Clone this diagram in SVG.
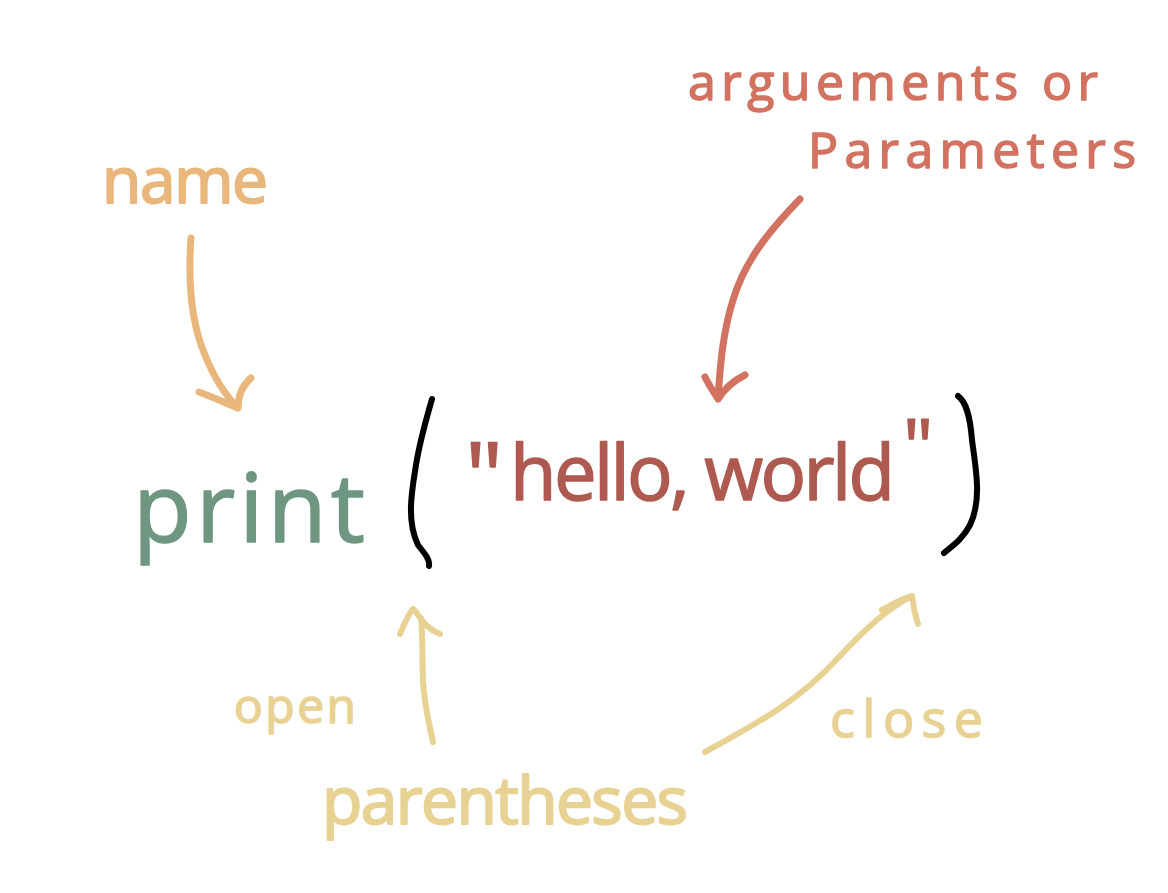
<svg xmlns="http://www.w3.org/2000/svg" width="1168" height="893" viewBox="0 0 1168 893">
<style>
.t{font-family:"Open Sans","Liberation Sans",sans-serif;stroke-linejoin:round}
.name{fill:#E9B77C;stroke:#E9B77C}
.arg{fill:#D27260;stroke:#D27260}
.hw{fill:#AE5A50;stroke:#AE5A50}
.pr{fill:#6E9680;stroke:#6E9680}
.par{fill:#E8D293;stroke:#E8D293}
.ln{fill:none;stroke-linecap:round;stroke-linejoin:round}
</style>
<rect width="1168" height="893" fill="#ffffff"/>
<g id="name-label"><text class="t name" x="102" y="203" font-size="64" stroke-width="2" textLength="166" lengthAdjust="spacing">name</text></g>
<g id="args-label">
<text class="t arg" x="688" y="100" font-size="50" stroke-width="1.5" textLength="410" lengthAdjust="spacing">arguements or</text>
<text class="t arg" x="808" y="168" font-size="50" stroke-width="1.5" textLength="328" lengthAdjust="spacing">Parameters</text>
</g>
<g id="print-node"><text class="t pr" x="133" y="542" font-size="96" stroke-width="1.5" textLength="232" lengthAdjust="spacing">print</text></g>
<g id="hello-node"><text class="t hw" x="465" y="500" font-size="76" stroke-width="1.5"><tspan x="465" y="511" font-size="96">"</tspan><tspan x="510" y="500" textLength="385" lengthAdjust="spacing">hello, world</tspan><tspan x="903" y="474" font-size="76">"</tspan></text></g>
<g id="brackets">
<path class="ln" stroke="#000" stroke-width="6" d="M432 399 C426 420 420 440 416 465 C412 490 406 520 418 545 C426 555 430 560 429 566"/>
<path class="ln" stroke="#000" stroke-width="6" d="M958 396 C966 402 970 415 972 440 C976 470 982 500 970 525 C962 540 952 546 944 553"/>
</g>
<g id="open-label"><text class="t par" x="234" y="723" font-size="48" stroke-width="1.5" textLength="122" lengthAdjust="spacing">open</text></g>
<g id="close-label"><text class="t par" x="830" y="737" font-size="52" stroke-width="1.5" textLength="153" lengthAdjust="spacing">close</text></g>
<g id="parentheses-label"><text class="t par" x="322" y="824" font-size="66" stroke-width="2" textLength="366" lengthAdjust="spacing">parentheses</text></g>
<g id="connectors">
<path class="ln" stroke="#E9B77C" stroke-width="7" d="M191 238 C188 280 190 320 205 355 C215 380 228 398 238 408 M199 392 C215 398 228 404 238 408 C238 395 243 385 251 378"/>
<path class="ln" stroke="#D27260" stroke-width="7" d="M800 199 C770 230 745 260 733 300 C722 335 720 370 718 398 M705 377 C710 387 715 394 718 399 C725 388 735 380 745 375"/>
<path class="ln" stroke="#E8D293" stroke-width="6" d="M433 742 C428 720 424 700 423 680 C422 660 423 635 421 618 M400 634 C405 622 410 612 413 609 C420 615 424 628 440 634"/>
<path class="ln" stroke="#E8D293" stroke-width="6" d="M705 752 C760 722 800 700 838 658 C866 628 888 608 912 596 M882 610 C893 604 903 598 912 596 C913 605 915 615 918 624"/>
</g>
</svg>
